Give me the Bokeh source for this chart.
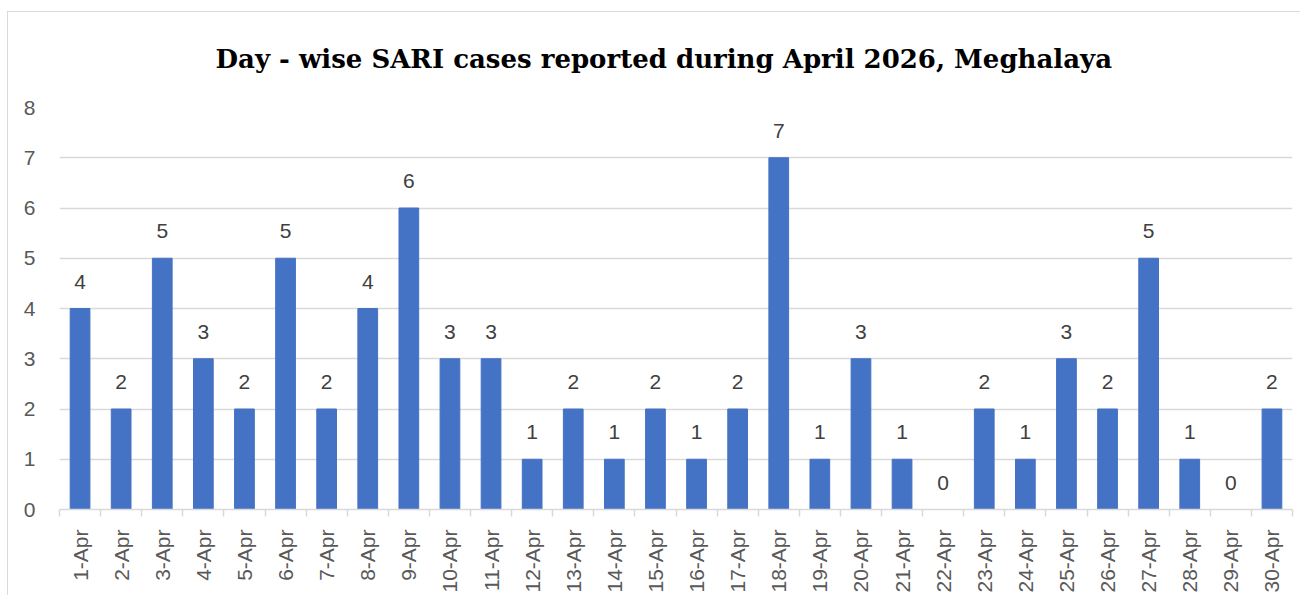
import math
from bokeh.plotting import figure
from bokeh.models import ColumnDataSource, Range1d, FixedTicker, Title
from bokeh.core.properties import value
from bokeh.embed import file_html
from bokeh.resources import INLINE

days = list(range(1, 31))
day_labels = [f"{d}-Apr" for d in days]
cases = [4, 2, 5, 3, 2, 5, 2, 4, 6, 3, 3, 1, 2, 1, 2, 1, 2, 7, 1, 3, 1, 0, 2, 1, 3, 2, 5, 1, 0, 2]
y_ticks = [0, 1, 2, 3, 4, 5, 6, 7, 8]
title_text = "Day - wise SARI cases reported during April 2026, Meghalaya"

src = ColumnDataSource(dict(x=days, top=cases, lab=[str(c) for c in cases]))

p = figure(width=1300, height=595, output_backend="svg", toolbar_location=None,
           x_range=Range1d(0.5, 30.5), y_range=Range1d(0, 8),
           min_border_left=59, min_border_right=8, min_border_top=107, min_border_bottom=85)
p.outline_line_color = None
p.background_fill_color = "white"
p.border_fill_color = None
p.styles = {
    "background": ("linear-gradient(#d9d9d9, #d9d9d9) 7px 11px / 1px 100% no-repeat, "
                   "linear-gradient(#d9d9d9, #d9d9d9) 7px 11px / 100% 1px no-repeat, white"),
}

t = Title(text=title_text, align="left", text_font="DejaVu Serif",
          text_font_style="bold", text_font_size="26px", text_color="black", offset=156, standoff=67)
p.add_layout(t, "above")

p.vbar(x="x", top="top", bottom=0, width=0.48, source=src, fill_color="#4472C4", line_color="#4472C4")
p.text(x="x", y="top", text="lab", source=src, text_align="center", text_baseline="alphabetic",
       y_offset=-27, text_font=value("Liberation Sans"), text_font_size="21px", text_color="#404040")

# x axis
p.xaxis.ticker = FixedTicker(ticks=days, minor_ticks=[d + 0.5 for d in range(0, 31)])
p.xaxis.major_label_overrides = {d: lab for d, lab in zip(days, day_labels)}
p.xaxis.major_label_orientation = math.pi / 2
p.xaxis.major_label_text_font = "Liberation Sans"
p.xaxis.major_label_text_font_size = "21px"
p.xaxis.major_label_text_color = "#595959"
p.xaxis.major_label_standoff = 13
p.xaxis.major_tick_out = 0
p.xaxis.major_tick_in = 0
p.xaxis.minor_tick_out = 7
p.xaxis.minor_tick_in = 0
p.xaxis.minor_tick_line_color = "#d9d9d9"
p.xaxis.minor_tick_line_width = 1.5
p.xaxis.axis_line_color = "#d9d9d9"
p.xaxis.axis_line_width = 1.5
p.xgrid.grid_line_color = None

# y axis
p.yaxis.ticker = FixedTicker(ticks=y_ticks)
p.yaxis.axis_line_color = None
p.yaxis.major_tick_line_color = None
p.yaxis.minor_tick_line_color = None
p.yaxis.major_tick_out = 0
p.yaxis.major_tick_in = 0
p.yaxis.minor_tick_out = 0
p.yaxis.major_label_text_font = "Liberation Sans"
p.yaxis.major_label_text_font_size = "21px"
p.yaxis.major_label_text_color = "#595959"
p.yaxis.major_label_standoff = 24
p.ygrid.grid_line_color = "#d9d9d9"
p.ygrid.grid_line_width = 1.5

open("out.html", "w").write(file_html(p, INLINE))
